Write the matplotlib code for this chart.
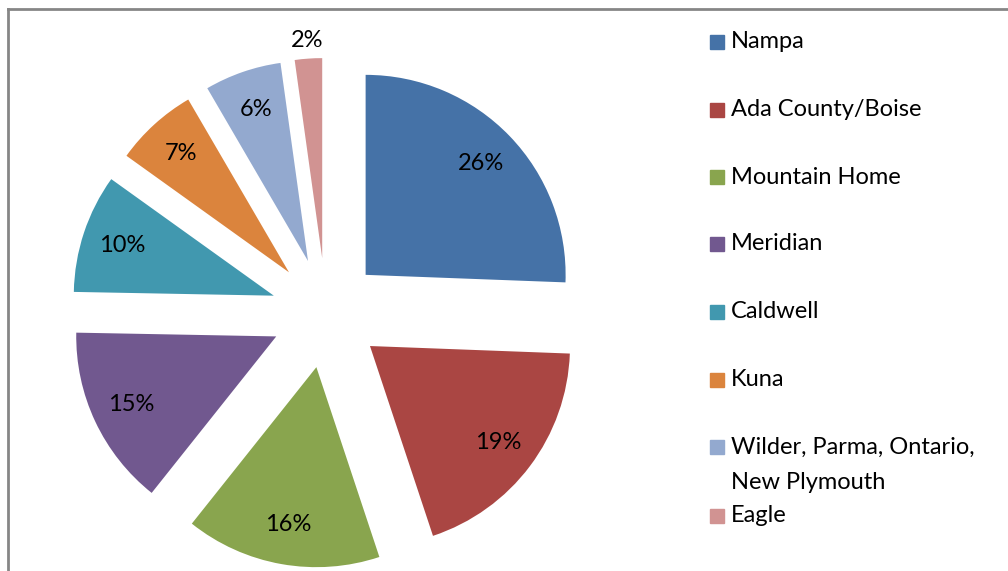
import numpy as np
import matplotlib.pyplot as plt
from matplotlib.lines import Line2D
from matplotlib.patches import Rectangle

places = ["Nampa", "Ada County/Boise", "Mountain Home", "Meridian", "Caldwell",
          "Kuna", "Wilder, Parma, Ontario,\nNew Plymouth", "Eagle"]
shares = [25.6, 19.3, 15.8, 14.6, 9.6, 6.7, 6.2, 2.2]
colors = ["#4572A7", "#AA4643", "#89A54E", "#71588F", "#4198AF",
          "#DB843D", "#93A9CF", "#D19392"]

plt.rcParams['font.family'] = ['Lato', 'DejaVu Sans']

W, H = 1008, 571
fig = plt.figure(figsize=(W / 100, H / 100), dpi=100)
ax = fig.add_axes([0, 0, 1, 1])

wedges, texts, autotexts = ax.pie(
    shares, colors=colors, startangle=90, counterclock=False,
    explode=[0.275] * len(shares), radius=1, autopct='%.0f%%',
    pctdistance=0.80, textprops={'fontsize': 17, 'color': 'black'},
    wedgeprops={'linewidth': 0}, normalize=True)

# pie center in pixels and radius
cx, cy, r = 326, 313, 200
ax.set_xlim(-cx / r, (W - cx) / r)
ax.set_ylim(-(H - cy) / r, cy / r)
ax.set_aspect('auto')
ax.axis('off')

# last slice is too small, label goes outside
w = wedges[-1]
th = np.deg2rad((w.theta1 + w.theta2) / 2)
autotexts[-1].set_position((w.center[0] + 1.09 * np.cos(th),
                            w.center[1] + 1.09 * np.sin(th)))

# frame (top and left only visible)
fig.add_artist(Line2D([8 / W, 1], [1 - 9 / H, 1 - 9 / H], color='#868686', lw=2))
fig.add_artist(Line2D([8 / W, 8 / W], [0, 1 - 9 / H], color='#868686', lw=2))

# legend, placed like excel
rows = [42, 110, 177, 244, 312, 380, 447, 516]
for name, col, y in zip(places, colors, rows):
    fig.add_artist(Rectangle((710 / W, 1 - (y + 7) / H), 14 / W, 14 / H,
                             transform=fig.transFigure, color=col))
    if '\n' in name:
        fig.text(731 / W, 1 - (y - 10) / H, name, fontsize=17, va='top',
                 ha='left', linespacing=1.85)
    else:
        fig.text(731 / W, 1 - y / H, name, fontsize=17, va='center', ha='left')

fig.savefig('out.png', dpi=100)
